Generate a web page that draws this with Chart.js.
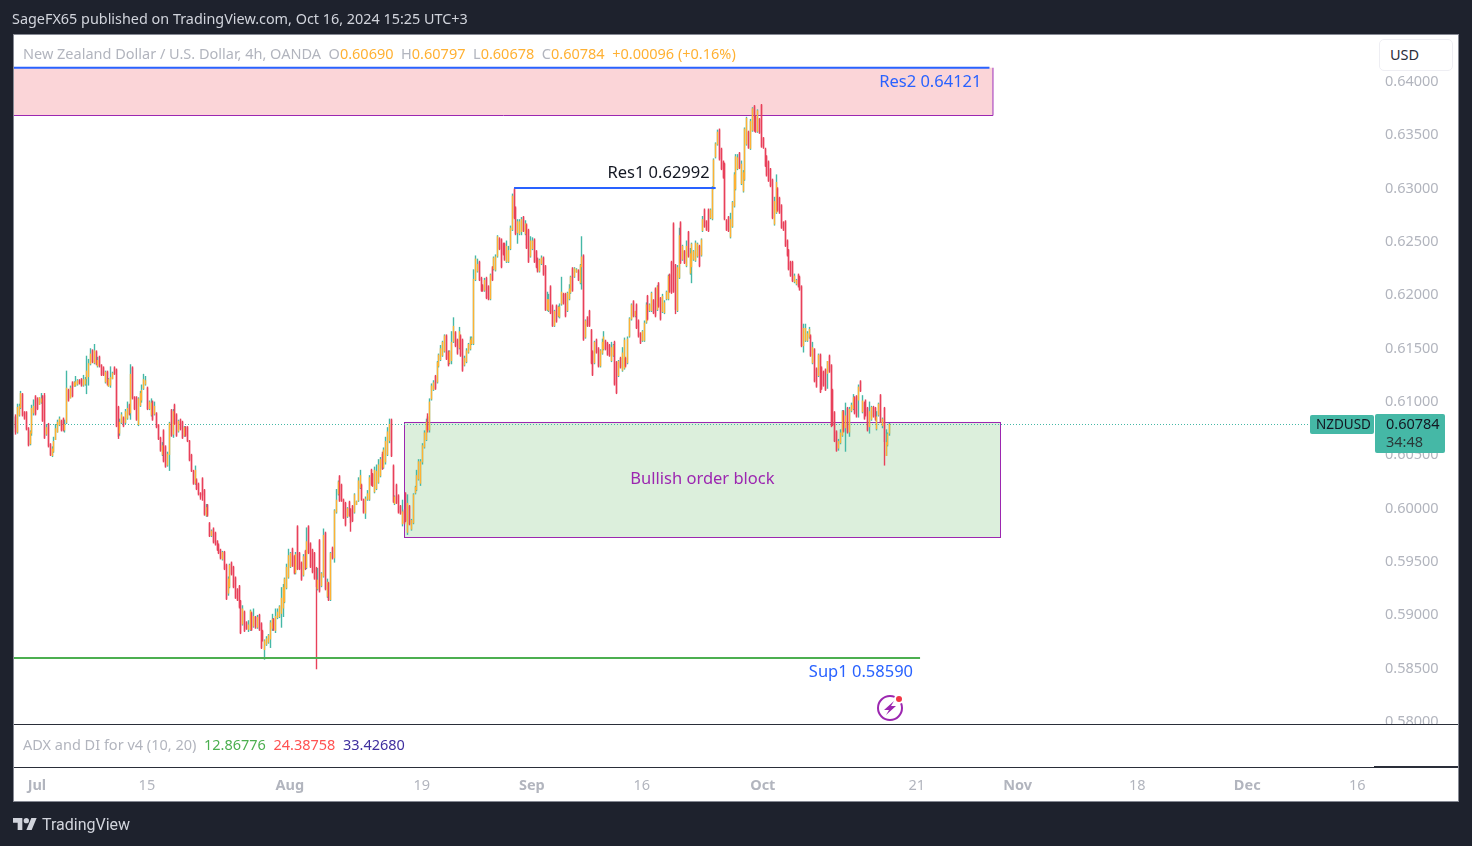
<!DOCTYPE html>
<html>
<head>
<meta charset="utf-8">
<title>NZDUSD 4h</title>
<script src="https://cdn.jsdelivr.net/npm/chart.js@4"></script>
<style>
    html, body { margin: 0; padding: 0; background: #1e222d; overflow: hidden; }
    #wrap { position: relative; width: 1472px; height: 846px; font-family: "Noto Sans", sans-serif; }
    canvas { position: absolute; left: 0; top: 0; }
    .txt { position: absolute; white-space: pre; font-size: 14.5px; line-height: 18px; }
    .grey { color: #b2b5be; }
    .orange { color: #ffb133; }
</style>
</head>
<body>
<div id="wrap">
    <canvas id="chart" width="1472" height="846"></canvas>
    <div class="txt" style="left:12px;top:10px;color:#d1d4dc;font-size:14.4px;">SageFX65 published on TradingView.com, Oct 16, 2024 15:25 UTC+3</div>
    <div class="txt grey" style="left:23px;top:44px;">New Zealand Dollar / U.S. Dollar, 4h, OANDA  O<span class="orange">0.60690</span>  H<span class="orange">0.60797</span>  L<span class="orange">0.60678</span>  C<span class="orange">0.60784</span>  <span class="orange">+0.00096 (+0.16%)</span></div>
    <div class="txt grey" style="left:23px;top:735px;">ADX and DI for v4 (10, 20)  <span style="color:#4caf50">12.86776</span>  <span style="color:#ff5252">24.38758</span>  <span style="color:#3f2f9f">33.42680</span></div>
    <div class="txt" style="left:1379px;top:39px;width:72px;height:30px;line-height:28px;padding-left:0;border:1px solid #eeeef3;border-radius:5px;background:#fff;color:#2a2e39;text-indent:10px;">USD</div>
    <svg style="position:absolute;left:13px;top:817px" width="24" height="14" viewBox="0 4 36 18"><path fill="#d1d4dc" d="M14 22H7V11H0V4h14v18zM28 22h-8l7.5-18h8L28 22z"/><circle fill="#d1d4dc" cx="20" cy="8" r="4"/></svg>
    <div class="txt" style="left:42px;top:816px;color:#d1d4dc;font-family:Roboto,sans-serif;font-size:16px;">TradingView</div>
</div>
<script>
// prices in pips (0.6082 = 6082), candle by candle
const highs = [
    6085,6087,6097,6097,6109,6107,6090,6090,6075,6072,
    6096,6101,6105,6103,6103,6107,6105,6107,6078,6079,
    6060,6057,6066,6078,6082,6085,6082,6084,6082,6128,
    6111,6114,6118,6118,6123,6120,6120,6121,6124,6122,
    6142,6139,6149,6148,6153,6147,6141,6142,6134,6132,
    6128,6128,6121,6132,6127,6132,6130,6095,6083,6089,
    6085,6092,6099,6097,6134,6132,6104,6104,6103,6109,
    6115,6125,6123,6113,6100,6102,6100,6099,6089,6078,
    6066,6061,6073,6058,6052,6080,6092,6092,6097,6088,
    6082,6083,6081,6076,6076,6076,6063,6050,6035,6039,
    6027,6023,6014,6028,6017,6003,6003,5986,5979,5981,
    5977,5969,5966,5961,5959,5959,5947,5935,5947,5949,
    5945,5935,5924,5927,5913,5908,5903,5893,5894,5904,
    5902,5905,5898,5899,5900,5892,5885,5876,5879,5881,
    5894,5900,5896,5905,5905,5908,5925,5928,5934,5947,
    5961,5958,5962,5955,5958,5983,5958,5949,5956,5960,
    5981,5983,5967,5961,5958,5944,5943,5970,5939,5980,
    5977,5933,5930,5958,5963,5998,6017,6025,6030,6022,
    6008,6005,6000,6006,5999,6002,6013,6006,6028,6035,
    6022,6008,6010,6016,6030,6036,6032,6038,6040,6045,
    6047,6052,6056,6066,6075,6083,6083,6040,6011,6022,
    6012,6002,6007,5998,6014,6012,6002,5989,6013,6020,
    6035,6045,6045,6060,6072,6083,6088,6102,6116,6119,
    6124,6137,6144,6152,6156,6162,6162,6147,6147,6165,
    6178,6165,6158,6169,6162,6158,6142,6149,6154,6160,
    6160,6223,6236,6233,6231,6216,6209,6215,6216,6208,
    6219,6226,6235,6237,6255,6253,6252,6248,6248,6250,
    6245,6264,6294,6299,6282,6270,6270,6272,6273,6269,
    6266,6261,6254,6253,6252,6241,6234,6233,6236,6235,
    6227,6202,6200,6208,6190,6185,6190,6189,6191,6216,
    6201,6201,6202,6209,6217,6225,6225,6224,6223,6228,
    6254,6237,6176,6179,6185,6167,6147,6156,6158,6150,
    6148,6158,6165,6157,6155,6153,6155,6153,6156,6137,
    6138,6141,6150,6159,6141,6160,6178,6191,6194,6184,
    6191,6176,6164,6166,6175,6192,6199,6191,6202,6195,
    6206,6208,6211,6197,6200,6194,6203,6218,6219,6231,
    6267,6228,6227,6262,6268,6246,6241,6250,6259,6243,
    6248,6241,6250,6248,6246,6252,6273,6280,6269,6280,
    6280,6301,6327,6342,6354,6355,6337,6325,6323,6270,
    6273,6276,6287,6314,6331,6331,6333,6325,6316,6356,
    6366,6353,6364,6375,6377,6367,6373,6365,6378,6347,
    6337,6330,6325,6318,6308,6291,6312,6300,6291,6284,
    6268,6269,6251,6242,6231,6231,6219,6214,6219,6217,
    6208,6172,6172,6165,6169,6162,6155,6149,6131,6144,
    6144,6132,6128,6130,6137,6143,6134,6111,6090,6072,
    6064,6073,6091,6091,6098,6094,6094,6098,6106,6104,
    6105,6115,6119,6105,6099,6101,6094,6099,6095,6095,
    6094,6090,6098,6106,6084,6094,6073,6070,6079
];
const lows = [
    6074,6068,6069,6085,6092,6085,6082,6072,6057,6058,
    6067,6086,6086,6091,6096,6097,6080,6064,6067,6056,
    6048,6047,6051,6063,6070,6076,6071,6071,6070,6078,
    6099,6102,6103,6113,6113,6114,6115,6113,6113,6114,
    6106,6114,6133,6135,6134,6133,6131,6131,6123,6123,
    6116,6114,6113,6112,6120,6124,6075,6064,6067,6078,
    6075,6078,6082,6086,6082,6101,6091,6081,6076,6094,
    6098,6110,6114,6091,6091,6085,6081,6086,6074,6063,
    6052,6048,6042,6037,6038,6034,6066,6065,6077,6066,
    6070,6072,6064,6066,6066,6061,6043,6033,6021,6021,
    6016,6011,6009,6006,5992,5991,5991,5972,5972,5966,
    5964,5959,5956,5951,5950,5941,5913,5917,5924,5936,
    5924,5914,5912,5905,5881,5889,5883,5885,5883,5884,
    5884,5887,5886,5886,5884,5867,5874,5857,5870,5872,
    5868,5884,5884,5882,5895,5896,5887,5897,5910,5923,
    5933,5943,5944,5937,5937,5941,5941,5931,5935,5941,
    5942,5956,5943,5938,5932,5848,5922,5920,5925,5934,
    5922,5915,5912,5912,5951,5948,5994,6011,6005,6005,
    5989,5982,5990,5991,5977,5986,5994,6002,6005,6017,
    6006,5994,5989,6006,6006,6020,6019,6013,6016,6022,
    6028,6035,6036,6040,6048,6060,6047,6004,6002,6003,
    5994,5993,5982,5984,5986,5974,5983,5978,5984,6012,
    6015,6025,6020,6040,6055,6062,6070,6070,6100,6109,
    6110,6116,6131,6137,6141,6145,6138,6132,6134,6134,
    6154,6150,6143,6148,6141,6127,6132,6135,6144,6147,
    6152,6152,6212,6220,6212,6202,6202,6202,6195,6194,
    6194,6212,6222,6221,6234,6241,6224,6236,6231,6229,
    6229,6241,6259,6270,6255,6247,6255,6255,6258,6255,
    6242,6229,6234,6241,6229,6224,6220,6220,6227,6217,
    6184,6184,6183,6181,6169,6169,6173,6178,6177,6189,
    6190,6178,6183,6194,6200,6202,6215,6220,6212,6209,
    6204,6156,6158,6169,6169,6134,6123,6134,6144,6131,
    6131,6143,6147,6147,6142,6141,6136,6141,6114,6106,
    6122,6130,6127,6129,6131,6134,6159,6175,6178,6178,
    6167,6159,6153,6155,6155,6172,6175,6183,6183,6181,
    6178,6184,6187,6175,6182,6181,6194,6194,6201,6200,
    6201,6181,6183,6214,6228,6231,6228,6225,6234,6218,
    6210,6231,6230,6234,6225,6235,6258,6262,6259,6258,
    6270,6269,6298,6327,6339,6325,6316,6308,6269,6259,
    6258,6252,6262,6281,6297,6316,6317,6302,6295,6306,
    6339,6336,6335,6352,6352,6351,6351,6350,6337,6336,
    6319,6310,6305,6300,6270,6264,6275,6277,6275,6261,
    6259,6244,6235,6222,6216,6211,6210,6208,6206,6203,
    6150,6145,6155,6155,6158,6141,6134,6117,6112,6122,
    6107,6110,6113,6109,6111,6126,6075,6076,6061,6052,
    6053,6059,6066,6070,6052,6069,6066,6089,6091,6087,
    6084,6084,6108,6088,6082,6085,6071,6069,6081,6084,
    6081,6072,6085,6079,6074,6039,6048,6057,6067
];
const opens = [
    6077,6085,6070,6086,6093,6106,6089,6089,6074,6059,
    6069,6088,6104,6102,6096,6098,6104,6105,6068,6078,
    6059,6048,6052,6063,6070,6077,6081,6083,6072,6079,
    6110,6102,6117,6113,6114,6115,6119,6120,6114,6115,
    6120,6122,6134,6147,6135,6146,6132,6141,6133,6131,
    6117,6127,6113,6114,6120,6131,6129,6094,6069,6079,
    6084,6079,6083,6096,6088,6131,6103,6103,6077,6095,
    6100,6111,6115,6112,6092,6086,6099,6087,6088,6077,
    6065,6049,6072,6057,6039,6049,6091,6068,6096,6087,
    6071,6082,6080,6067,6075,6075,6062,6049,6034,6022,
    6026,6022,6013,6027,6016,5992,6002,5985,5973,5980,
    5976,5968,5965,5960,5951,5958,5946,5919,5925,5948,
    5944,5934,5923,5926,5912,5890,5902,5892,5885,5885,
    5901,5888,5897,5887,5899,5891,5884,5866,5871,5873,
    5876,5886,5895,5884,5896,5897,5900,5905,5911,5924,
    5934,5944,5961,5954,5938,5982,5957,5948,5936,5959,
    5943,5982,5966,5960,5957,5943,5923,5969,5926,5935,
    5976,5916,5929,5913,5962,5952,5995,6012,6029,6021,
    6007,6004,5991,6005,5998,6001,5995,6002,6006,6018,
    6021,6007,5994,6007,6007,6035,6031,6014,6017,6023,
    6029,6050,6037,6042,6049,6062,6082,6039,6003,6021,
    6011,6001,5984,5997,6013,5976,6001,5979,5985,6013,
    6016,6026,6022,6042,6056,6063,6085,6072,6101,6110,
    6123,6117,6132,6138,6142,6146,6161,6146,6135,6137,
    6155,6164,6157,6149,6161,6157,6133,6136,6145,6148,
    6153,6153,6213,6221,6230,6215,6208,6203,6215,6207,
    6195,6225,6223,6222,6235,6252,6251,6247,6247,6230,
    6230,6242,6260,6298,6281,6257,6256,6258,6272,6256,
    6265,6260,6235,6242,6251,6240,6233,6221,6228,6234,
    6226,6185,6184,6207,6189,6170,6189,6179,6178,6190,
    6200,6200,6184,6195,6201,6224,6216,6220,6222,6210,
    6225,6236,6159,6178,6184,6166,6146,6135,6157,6149,
    6132,6144,6148,6156,6154,6152,6137,6142,6155,6136,
    6123,6140,6128,6130,6140,6135,6160,6176,6193,6179,
    6190,6175,6163,6156,6156,6173,6198,6184,6184,6194,
    6205,6185,6210,6196,6183,6182,6195,6195,6218,6230,
    6266,6227,6184,6215,6267,6232,6240,6226,6258,6219,
    6225,6232,6231,6235,6245,6236,6259,6279,6268,6279,
    6271,6270,6299,6328,6340,6354,6336,6324,6322,6269,
    6272,6253,6263,6282,6298,6317,6332,6303,6296,6307,
    6340,6352,6336,6353,6376,6366,6352,6364,6377,6346,
    6336,6329,6324,6317,6307,6265,6276,6299,6290,6283,
    6267,6268,6250,6241,6230,6230,6211,6209,6218,6216,
    6207,6151,6156,6156,6159,6161,6135,6148,6130,6123,
    6143,6131,6127,6129,6125,6142,6133,6110,6089,6071,
    6055,6060,6067,6090,6074,6093,6070,6090,6092,6103,
    6104,6100,6118,6089,6098,6100,6093,6075,6082,6094,
    6093,6073,6086,6105,6076,6093,6048,6058,6069
];
const closes = [
    6081,6070,6094,6095,6107,6086,6083,6073,6058,6071,
    6093,6095,6087,6092,6103,6102,6081,6065,6075,6057,
    6049,6055,6062,6074,6080,6083,6072,6072,6078,6112,
    6100,6112,6104,6117,6118,6119,6116,6114,6120,6120,
    6128,6135,6144,6136,6147,6134,6138,6132,6124,6124,
    6127,6115,6120,6122,6126,6125,6076,6066,6080,6087,
    6076,6090,6093,6087,6125,6102,6092,6082,6102,6107,
    6110,6120,6119,6092,6099,6098,6082,6095,6075,6064,
    6053,6058,6043,6038,6050,6079,6067,6090,6078,6067,
    6081,6073,6065,6075,6067,6062,6044,6034,6022,6035,
    6017,6012,6007,6011,5993,6000,5992,5973,5978,5967,
    5965,5960,5957,5952,5958,5942,5914,5933,5946,5937,
    5925,5915,5913,5906,5882,5905,5884,5886,5890,5903,
    5885,5898,5887,5897,5885,5868,5875,5875,5877,5880,
    5892,5895,5885,5898,5902,5907,5915,5925,5933,5944,
    5955,5957,5945,5938,5956,5942,5942,5932,5954,5942,
    5968,5957,5944,5939,5933,5925,5932,5921,5938,5974,
    5923,5930,5913,5957,5952,5997,6007,6024,6006,6006,
    5990,5983,5999,5992,5985,5987,6012,6006,6025,6030,
    6007,5995,6008,6013,6028,6021,6020,6035,6034,6040,
    6045,6036,6054,6062,6071,6078,6048,6005,6010,6004,
    5995,5994,5996,5985,5987,6004,5984,5988,6012,6019,
    6030,6043,6043,6058,6070,6080,6072,6099,6114,6117,
    6111,6136,6143,6149,6155,6161,6139,6133,6146,6155,
    6170,6151,6144,6165,6142,6128,6140,6147,6153,6157,
    6159,6214,6233,6228,6213,6203,6203,6213,6196,6195,
    6218,6213,6234,6235,6254,6242,6225,6237,6232,6245,
    6241,6262,6292,6271,6256,6268,6268,6270,6259,6266,
    6243,6230,6250,6250,6230,6225,6221,6232,6234,6218,
    6185,6195,6195,6182,6170,6184,6174,6188,6188,6202,
    6191,6179,6201,6205,6216,6203,6224,6223,6213,6227,
    6235,6157,6175,6170,6170,6135,6124,6155,6145,6132,
    6147,6155,6160,6148,6143,6142,6150,6152,6115,6107,
    6137,6131,6145,6157,6132,6158,6177,6190,6179,6184,
    6168,6160,6154,6165,6173,6190,6176,6190,6201,6182,
    6179,6207,6188,6176,6198,6192,6202,6217,6202,6201,
    6202,6185,6225,6255,6229,6245,6229,6245,6235,6238,
    6247,6240,6248,6247,6226,6251,6270,6263,6260,6259,
    6279,6300,6326,6341,6352,6326,6317,6309,6270,6260,
    6259,6270,6286,6312,6329,6328,6318,6322,6314,6355,
    6365,6337,6362,6374,6353,6352,6372,6351,6338,6337,
    6320,6311,6306,6301,6271,6287,6305,6278,6276,6262,
    6260,6245,6236,6223,6217,6212,6217,6213,6207,6204,
    6151,6168,6168,6163,6167,6142,6150,6118,6113,6143,
    6108,6111,6114,6110,6137,6127,6076,6077,6062,6053,
    6062,6070,6090,6071,6086,6070,6092,6096,6103,6088,
    6085,6113,6109,6100,6083,6086,6072,6090,6094,6085,
    6082,6085,6097,6080,6083,6061,6061,6069,6078
];

// time axis, positions are candle numbers
const dateLabels = ["Jul", "15", "Aug", "19", "Sep", "16", "Oct", "21", "Nov", "18", "Dec", "16"];
const datePositions = [12.7, 72.7, 150.7, 222.7, 282.7, 342.7, 408.7, 492.7, 547.7, 613, 673, 733];
const months = ["Jul", "Aug", "Sep", "Oct", "Nov", "Dec"];

const lastPrice = 6078.4;
const res2Zone = { top: 6412, bottom: 6368, end: 534 };
const res1Level = { price: 6299.2, from: 273, to: 383 };
const sup1Level = { price: 5859, end: 494.5 };
const orderBlock = { top: 6080, bottom: 5972, from: 213.2, to: 538.4 };

const red = "#e8405a", teal = "#45b8a6", orange = "#ffb133";
const purple = "#9c27b0", blue = "#2962ff";
const fontName = '"Noto Sans", sans-serif';

const wicks = highs.map((h, i) => ({ x: i, y: [lows[i], h] }));
const bodies = opens.map((o, i) => ({ x: i, y: [o, closes[i]] }));
const isUp = opens.map((o, i) => closes[i] >= o);

const drawings = {
    id: "drawings",
    beforeDraw(chart) {
        const c = chart.ctx;
        c.fillStyle = "#1e222d";
        c.fillRect(0, 0, chart.width, chart.height);
        c.fillStyle = "#868993";
        c.fillRect(13, 34, 1446, 768);
        c.fillStyle = "#fff";
        c.fillRect(14, 35, 1444, 766);
    },
    // zones go under the candles
    beforeDatasetsDraw(chart) {
        const c = chart.ctx, x = chart.scales.x, y = chart.scales.y, a = chart.chartArea;
        // snap the thin candles to whole pixels, like the original
        chart.data.datasets.forEach((d, k) => {
            chart.getDatasetMeta(k).data.forEach((el) => { el.x = Math.floor(el.x) + 0.5; });
        });
        c.save();
        // Res2
        let r = x.getPixelForValue(res2Zone.end);
        let t = y.getPixelForValue(res2Zone.top), b = Math.round(y.getPixelForValue(res2Zone.bottom));
        c.fillStyle = "#fbd5d8";
        c.fillRect(a.left, t, r - a.left, b - t);
        c.strokeStyle = purple;
        c.lineWidth = 1;
        c.beginPath();
        c.moveTo(a.left, b + 0.5); c.lineTo(r + 0.5, b + 0.5); c.lineTo(r + 0.5, t);
        c.stroke();
        c.fillStyle = blue;
        c.fillRect(a.left, t - 1, r - 3 - a.left, 2);
        // order block
        let l = x.getPixelForValue(orderBlock.from);
        r = x.getPixelForValue(orderBlock.to);
        t = y.getPixelForValue(orderBlock.top);
        b = y.getPixelForValue(orderBlock.bottom);
        c.fillStyle = "#dcefdc";
        c.fillRect(l, t, r - l, b - t);
        c.strokeStyle = purple;
        c.strokeRect(Math.round(l) + 0.5, Math.round(t) + 0.5, Math.round(r - l), Math.round(b - t));
        // last price dots
        c.strokeStyle = teal;
        c.setLineDash([1, 2]);
        c.beginPath();
        c.moveTo(a.left, Math.round(y.getPixelForValue(lastPrice)) + 0.5);
        c.lineTo(1310, Math.round(y.getPixelForValue(lastPrice)) + 0.5);
        c.stroke();
        c.restore();
    },
    afterDatasetsDraw(chart) {
        const c = chart.ctx, x = chart.scales.x, y = chart.scales.y, a = chart.chartArea;
        c.save();
        // Res1 and Sup1 lines
        let py = y.getPixelForValue(res1Level.price);
        c.fillStyle = blue;
        c.fillRect(x.getPixelForValue(res1Level.from), Math.round(py) - 1, x.getPixelForValue(res1Level.to) - x.getPixelForValue(res1Level.from), 2);
        py = y.getPixelForValue(sup1Level.price);
        c.fillStyle = "#4caf50";
        c.fillRect(a.left, Math.round(py) - 1, x.getPixelForValue(sup1Level.end) - a.left, 2);

        // labels
        c.textBaseline = "middle";
        c.font = "16.5px " + fontName;
        c.textAlign = "right";
        c.fillStyle = blue;
        c.fillText("Res2 0.64121", x.getPixelForValue(res2Zone.end) - 11, 82);
        c.fillText("Sup1 0.58590", x.getPixelForValue(sup1Level.end) - 7, 672);
        c.fillStyle = "#131722";
        c.fillText("Res1 0.62992", x.getPixelForValue(res1Level.to) - 6, 173);
        c.textAlign = "center";
        c.fillStyle = purple;
        c.fillText("Bullish order block", x.getPixelForValue((orderBlock.from + orderBlock.to) / 2), 479);

        // alert icon
        c.strokeStyle = purple;
        c.lineWidth = 2;
        c.beginPath();
        c.arc(890, 708, 12, 0, Math.PI * 2);
        c.stroke();
        c.fillStyle = purple;
        c.fill(new Path2D("M894 701 L884 710 L889 710 L886 715 L896 706 L891 706 Z"));
        c.fillStyle = "#fff";
        c.beginPath(); c.arc(899, 699, 5, 0, Math.PI * 2); c.fill();
        c.fillStyle = "#f23645";
        c.beginPath(); c.arc(899, 699, 3, 0, Math.PI * 2); c.fill();
        c.restore();
    },
    afterDraw(chart) {
        const c = chart.ctx;
        c.save();
        // price tags sit on the axis
        c.fillStyle = teal;
        c.beginPath(); c.roundRect(1310, 415, 64, 19, 2); c.fill();
        c.beginPath(); c.roundRect(1375, 414, 70, 39, 2); c.fill();
        c.fillStyle = "#131722";
        c.font = "13.5px " + fontName;
        c.textBaseline = "middle";
        c.textAlign = "left";
        c.fillText("NZDUSD", 1316, 425);
        c.font = "14.5px " + fontName;
        c.fillText("0.60784", 1386, 425);
        c.fillStyle = "#2a3a3a";
        c.fillText("34:48", 1386, 443);
        // indicator pane
        c.fillStyle = "#fff";
        c.fillRect(14, 724, 1444, 43);
        c.fillStyle = "#2a2e39";
        c.fillRect(14, 724, 1444, 1);
        c.fillRect(14, 767, 1360, 1);
        c.fillRect(1374, 766, 84, 2);
        c.restore();
    }
};

new Chart(document.getElementById("chart"), {
    type: "bar",
    data: {
        datasets: [
            { data: bodies, backgroundColor: isUp.map((u) => (u ? orange : red)), order: 1 },
            { data: wicks, backgroundColor: isUp.map((u) => (u ? teal : red)), order: 2 },
        ],
    },
    options: {
        responsive: false,
        animation: false,
        devicePixelRatio: 1,
        grouped: false,
        barThickness: 1.4,
        inflateAmount: 0,
        layout: { padding: { left: 14, top: 35, right: 0, bottom: 0 } },
        plugins: { legend: { display: false }, tooltip: { enabled: false } },
        scales: {
            x: {
                type: "linear",
                offset: false,
                min: 0.2,
                max: 742.7,
                grid: { display: false, drawTicks: false },
                border: { display: false },
                afterFit(axis) {
                    axis.height = 122;
                    axis.paddingLeft = 0;
                    axis.paddingRight = 0;
                },
                afterBuildTicks(axis) { axis.ticks = datePositions.map((v) => ({ value: v })); },
                ticks: {
                    autoSkip: false,
                    maxRotation: 0,
                    padding: 53,
                    color: "#b2b5be",
                    font: (ctx) => ({
                        family: fontName,
                        size: 14.5,
                        weight: months.includes(dateLabels[ctx.index]) ? "bold" : "normal",
                    }),
                    callback: (value) => dateLabels[datePositions.indexOf(value)],
                },
            },
            y: {
                position: "right",
                min: 5796.7,
                max: 6442.7,
                grid: { display: false, drawTicks: false },
                border: { display: false },
                afterFit(axis) { axis.width = 97; },
                ticks: {
                    stepSize: 50,
                    includeBounds: false,
                    padding: 10,
                    labelOffset: 1.5,
                    color: "#b2b5be",
                    font: { family: fontName, size: 14.5 },
                    callback: (value) => (value / 10000).toFixed(5),
                },
            },
        },
    },
    plugins: [drawings],
});
</script>
</body>
</html>
